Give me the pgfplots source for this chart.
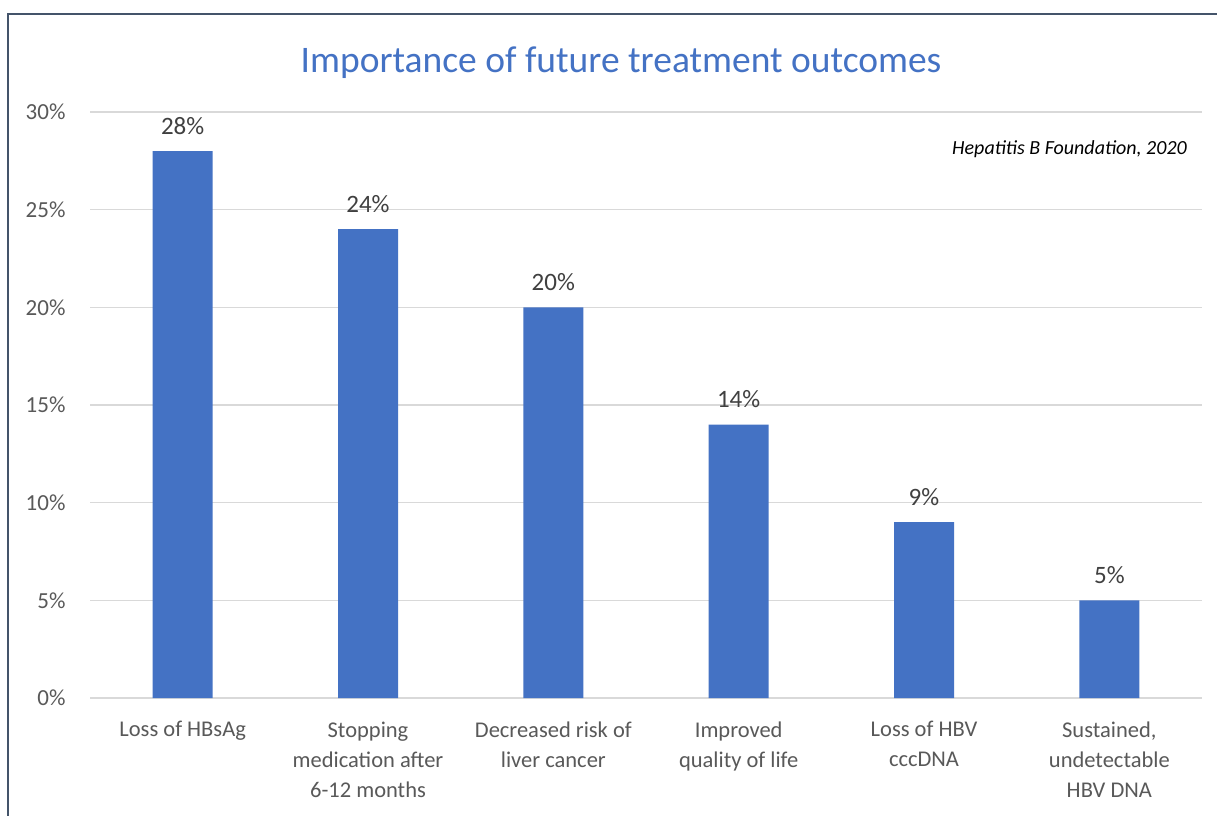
\documentclass[border=0pt]{standalone}
\usepackage{pgfplots}
\pgfplotsset{compat=1.18}
\usepackage{fontspec}
\setmainfont{Carlito}
\definecolor{barblue}{HTML}{4472C4}
\definecolor{titleblue}{HTML}{4472C4}
\definecolor{gridgray}{HTML}{D9D9D9}
\definecolor{labelgray}{HTML}{595959}
\definecolor{framecol}{HTML}{44546A}
\begin{document}
\begin{tikzpicture}[x=1pt,y=1pt]
\useasboundingbox (0,0) rectangle (1217,815);
\fill[white] (0,0) rectangle (1217,815);
% chart frame (cropped at right and bottom)
\draw[framecol, line width=2pt] (8,-5) -- (8,801) -- (1225,801);

\begin{axis}[
    at={(90pt,117pt)}, anchor=south west,
    scale only axis,
    width=1112pt, height=586pt,
    xmin=-0.5, xmax=5.5,
    ymin=0, ymax=30,
    ytick={0,5,...,30},
    yticklabel={\pgfmathprintnumber{\tick}\%},
    /pgf/number format/assume math mode=true,
    xtick=data,
    xticklabels={{Loss of HBsAg},
                 {Stopping\\medication after\\6-12 months},
                 {Decreased risk of\\liver cancer},
                 {Improved\\quality of life},
                 {Loss of HBV\\cccDNA},
                 {Sustained,\\undetectable\\HBV DNA}},
    xticklabel style={align=center, font=\fontsize{22.5}{30}\selectfont, text=labelgray, yshift=-20pt},
    yticklabel style={font=\fontsize{23}{26}\selectfont, text=labelgray, xshift=-21pt},
    major tick length=0pt,
    ymajorgrids, grid style={gridgray, line width=1.2pt},
    axis x line*=bottom, axis y line*=left,
    x axis line style={gridgray, line width=1.2pt, -},
    y axis line style={draw=none},
    title={Importance of future treatment outcomes},
    title style={font=\fontsize{37.5}{44}\selectfont, text=titleblue, yshift=24pt, xshift=-25pt},
    clip=false,
]
\addplot[ybar, bar width=60pt, fill=barblue, draw=none,
    nodes near coords={\pgfmathprintnumber{\pgfplotspointmeta}\%},
    nodes near coords style={font=\fontsize{25}{28}\selectfont, text=black!75, yshift=13pt}]
    coordinates {(0,28) (1,24) (2,20) (3,14) (4,9) (5,5)};
\node[anchor=east, font=\fontsize{20}{24}\selectfont\itshape] at (rel axis cs:0.9895,0.937) {Hepatitis B Foundation, 2020};
\end{axis}
\end{tikzpicture}
\end{document}
